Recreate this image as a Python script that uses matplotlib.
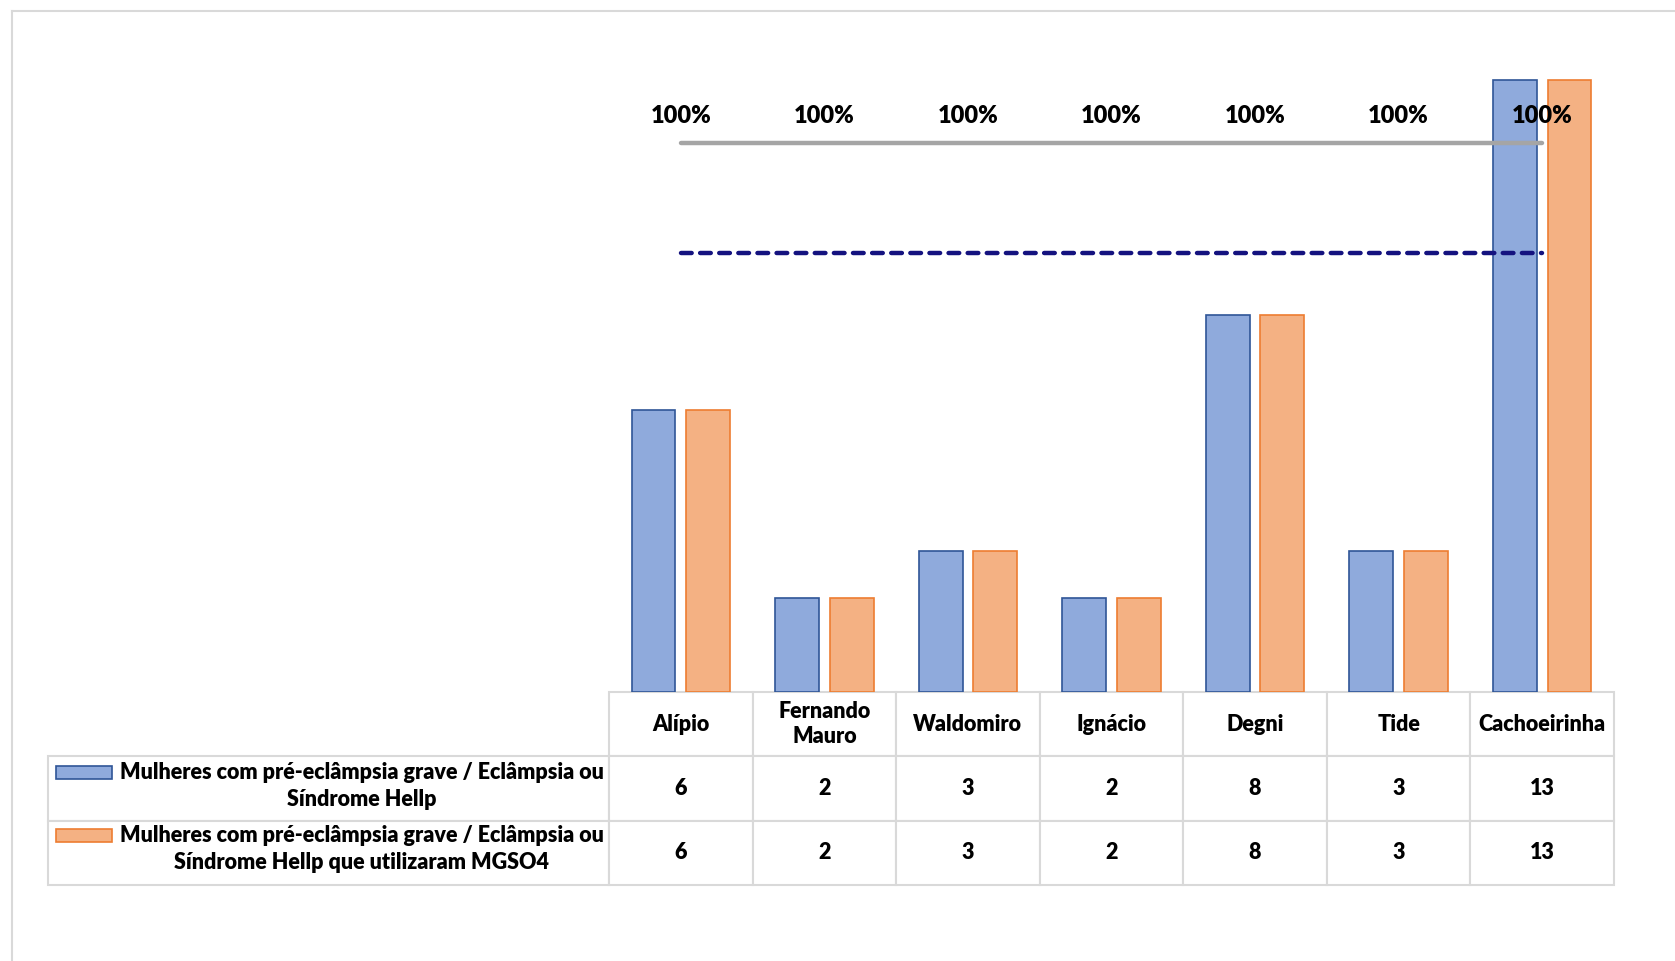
import numpy as np
import matplotlib.pyplot as plt
from matplotlib.lines import Line2D
from matplotlib.patches import Rectangle

plt.rcParams['font.family'] = ['Lato', 'DejaVu Sans']

# Data
categories = ['Alípio', 'Fernando\nMauro', 'Waldomiro', 'Ignácio', 'Degni', 'Tide', 'Cachoeirinha']
graves = [6, 2, 3, 2, 8, 3, 13]
mgso4 = [6, 2, 3, 2, 8, 3, 13]
pct = [1.0, 1.0, 1.0, 1.0, 1.0, 1.0, 1.0]
meta = [0.8] * 7
series_names = ['Mulheres com pré-eclâmpsia grave / Eclâmpsia ou\nSíndrome Hellp',
                'Mulheres com pré-eclâmpsia grave / Eclâmpsia ou\nSíndrome Hellp que utilizaram MGSO4']

blue_fill, blue_edge = '#8FAADC', '#2F5597'
orange_fill, orange_edge = '#F4B183', '#ED7D31'
grid_col = '#d9d9d9'
weight = 'heavy'

W, H = 1675, 961
fig = plt.figure(figsize=(W / 100, H / 100), dpi=100)
# axes placed in pixels: left 609, right 1614, bottom 692, top 33
ax = fig.add_axes([609 / W, 1 - 692 / H, (1614 - 609) / W, (692 - 33) / H])
x = np.arange(len(categories))

ax.bar(x - 0.19, graves, width=0.305, color=blue_fill, edgecolor=blue_edge, linewidth=1.2)
ax.bar(x + 0.19, mgso4, width=0.305, color=orange_fill, edgecolor=orange_edge, linewidth=1.2)
ax.set_xlim(-0.5, len(categories) - 0.5)
ax.set_ylim(0, 14)
ax.axis('off')

ax2 = ax.twinx()
ax2.set_ylim(0, 1.2)
ax2.axis('off')
ax2.plot(x, pct, color='#A5A5A5', lw=3.2, solid_capstyle='round')
ax2.plot(x, meta, color='#14127F', lw=3.2, dash_capstyle='round', dashes=(2.4, 1.9))
for xi, p in zip(x, pct):
    ax2.annotate(f'{p:.0%}', (xi, p), xytext=(0, 19.5), textcoords='offset points',
                 ha='center', va='center', fontsize=17, fontweight=weight)

# data table under the chart (bbox covers the data columns; row labels sit to the left)
cell_text = [[str(v) for v in graves], [str(v) for v in mgso4]]
tab = ax.table(cellText=cell_text, colLabels=categories, rowLabels=['', ''],
               colWidths=[1 / 7] * 7, cellLoc='center',
               bbox=[0, -(885 - 692) / 659, 1, (885 - 692) / 659])
tab._autoColumns = []
tab.auto_set_font_size(False)
tab.set_fontsize(15.5)
for (r, c), cell in tab.get_celld().items():
    cell.set_edgecolor(grid_col)
    cell.set_linewidth(1.5)
    cell.set_text_props(fontweight=weight)
    if c == -1:
        cell.set_width((609 - 48) / 1005)

# legend keys inside the row-label column
tx = ax.transAxes
for i, (name, fc, ec) in enumerate(zip(series_names, [blue_fill, orange_fill], [blue_edge, orange_edge])):
    top = 756 + i * 63
    ax.add_patch(Rectangle(((56 - 609) / 1005, 1 - (top + 23 - 33) / 659), 56 / 1005, 13 / 659,
                           transform=tx, facecolor=fc, edgecolor=ec, lw=1.2, clip_on=False))
    ax.text((362 - 609) / 1005, 1 - (top + 30 - 33) / 659, name, transform=tx,
            ha='center', va='center', fontsize=15.5, fontweight=weight, linespacing=1.35)

# outer frame
fig.add_artist(Line2D([12 / W, 1], [1 - 11 / H] * 2, color=grid_col, lw=1.5))
fig.add_artist(Line2D([12 / W] * 2, [0, 1 - 11 / H], color=grid_col, lw=1.5))

fig.savefig('out.png', dpi=100)
